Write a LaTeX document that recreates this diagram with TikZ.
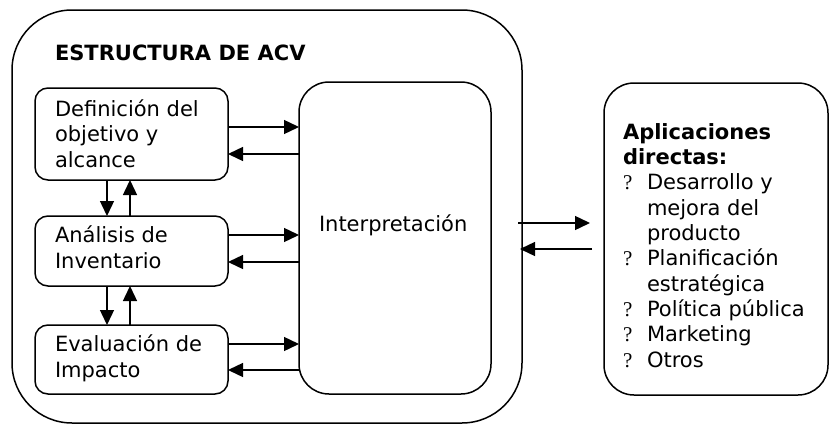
\documentclass[tikz,border=0pt]{standalone}
\usepackage{fontspec}
\setmainfont{DejaVu Sans}
\newfontfamily\qfont{Liberation Serif}
\usetikzlibrary{arrows.meta}
\begin{document}
\begin{tikzpicture}[x=1pt,y=-1pt,
  rbox/.style={draw, line width=1.5pt, rounded corners=#1, inner sep=0pt, outer sep=0pt, anchor=north west},
  txt/.style={inner sep=0pt, outer sep=0pt, align=left, anchor=base west, font=\fontsize{21}{25.3}\selectfont},
  arr/.style={line width=1.4pt, -{Triangle[length=15pt,width=14pt]}}
]
\useasboundingbox (0,0) rectangle (831,426);
% boxes
\node[rbox=60pt, minimum width=510pt, minimum height=413pt] (outer) at (12,10) {};
\node[rbox=13pt, minimum width=193pt, minimum height=92pt] (def) at (35,88) {};
\node[rbox=13pt, minimum width=193pt, minimum height=70pt] (ana) at (35,216) {};
\node[rbox=13pt, minimum width=193pt, minimum height=69pt] (eva) at (35,325) {};
\node[rbox=30pt, minimum width=192pt, minimum height=312pt] (interp) at (299,82) {};
\node[rbox=30pt, minimum width=224pt, minimum height=312pt] (apps) at (604,83) {};
% texts (anchor base west = baseline of the last line)
\node[txt, font=\fontsize{21}{25.3}\selectfont\bfseries] (title) at (55,60) {ESTRUCTURA DE ACV};
\node[txt] (deftxt) at (55,167) {Definición del\\objetivo y\\alcance};
\node[txt] (anatxt) at (55,268) {Análisis de\\Inventario};
\node[txt] (evatxt) at (55,377) {Evaluación de\\Impacto};
\node[txt] (inttxt) at (319,231) {Interpretación};
\node[txt] (appstxt) at (623,367) {\textbf{Aplicaciones}\\\textbf{directas:}\\
\makebox[24pt][l]{\qfont ?}Desarrollo y\\
\hspace*{24pt}mejora del\\
\hspace*{24pt}producto\\
\makebox[24pt][l]{\qfont ?}Planificación\\
\hspace*{24pt}estratégica\\
\makebox[24pt][l]{\qfont ?}Política pública\\
\makebox[24pt][l]{\qfont ?}Marketing\\
\makebox[24pt][l]{\qfont ?}Otros};
% arrow levels
\coordinate (y1) at (0,127);
\coordinate (y2) at (0,154);
\coordinate (y3) at (0,235);
\coordinate (y4) at (0,262);
\coordinate (y5) at (0,344);
\coordinate (y6) at (0,370);
\coordinate (xd) at (107,0);
\coordinate (xu) at (130,0);
\coordinate (rs) at (518,223);
\coordinate (re) at (590,223);
\coordinate (ls) at (592,249);
\coordinate (le) at (520,249);
% horizontal arrows
\draw[arr] (def.east |- y1) -- (interp.west |- y1);
\draw[arr] (interp.west |- y2) -- (def.east |- y2);
\draw[arr] (ana.east |- y3) -- (interp.west |- y3);
\draw[arr] (interp.west |- y4) -- (ana.east |- y4);
\draw[arr] (eva.east |- y5) -- (interp.west |- y5);
\draw[arr] (interp.west |- y6) -- (eva.east |- y6);
% vertical arrows
\draw[arr] (xd |- def.south) -- (xd |- ana.north);
\draw[arr] (xu |- ana.north) -- (xu |- def.south);
\draw[arr] (xd |- ana.south) -- (xd |- eva.north);
\draw[arr] (xu |- eva.north) -- (xu |- ana.south);
% outside arrows
\draw[arr] (rs) -- (re);
\draw[arr] (ls) -- (le);
\end{tikzpicture}
\end{document}
